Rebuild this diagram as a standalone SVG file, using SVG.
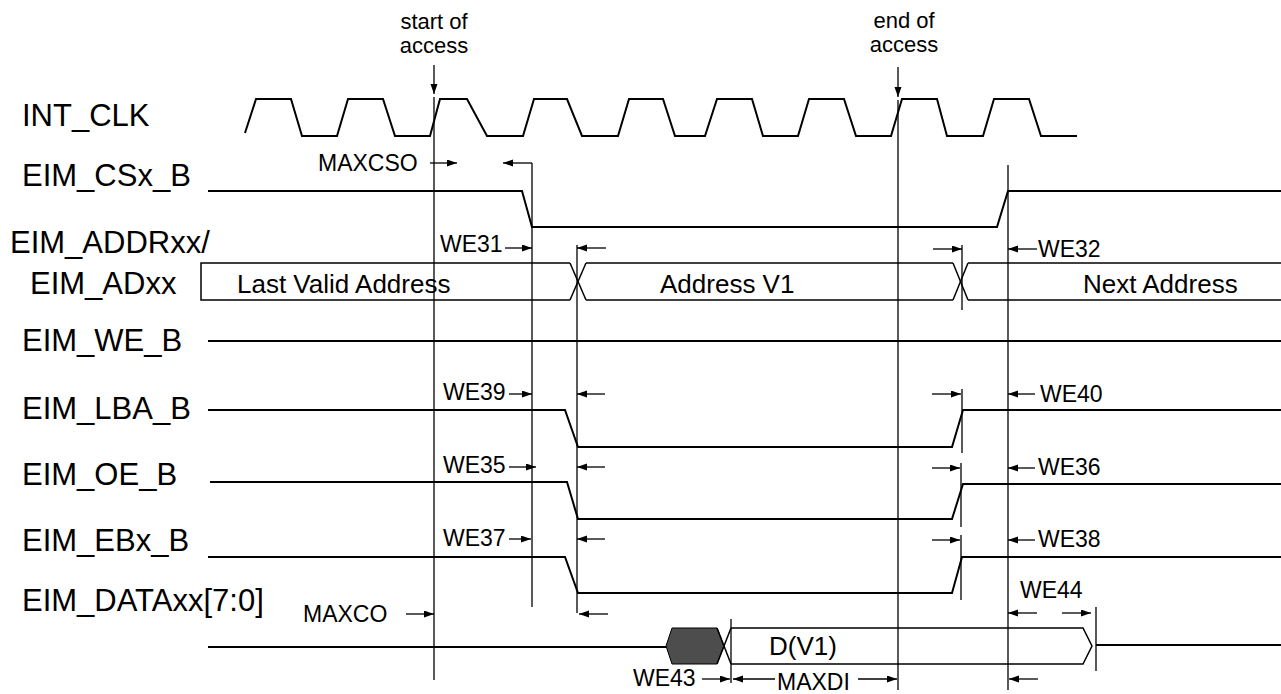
<svg xmlns="http://www.w3.org/2000/svg" width="1281" height="694" viewBox="0 0 1281 694">
<style>
text{font-family:"Liberation Sans",Arial,sans-serif;fill:#000}
.lbl{font-size:31px}
.sm{font-size:23px}
.top{font-size:22px}
.bus{font-size:26px}
.sig{fill:none;stroke:#000;stroke-width:2;stroke-linejoin:miter}
.busl{fill:none;stroke:#000;stroke-width:1.5}
.ref{stroke:#000;stroke-width:1.3;fill:none}
.arr{stroke:#000;stroke-width:1.3;fill:none;marker-end:url(#ah)}
</style>
<defs>
<marker id="ah" markerUnits="userSpaceOnUse" markerWidth="11" markerHeight="8" refX="10" refY="3.5" orient="auto">
<path d="M0,0 L10,3.5 L0,7 z" fill="#000"/>
</marker>
</defs>
<rect width="1281" height="694" fill="#fff"/>

<g id="labels">
<text class="lbl" x="22" y="126">INT_CLK</text>
<text class="lbl" x="22" y="186">EIM_CSx_B</text>
<text class="lbl" x="10" y="253">EIM_ADDRxx/</text>
<text class="lbl" x="30" y="294">EIM_ADxx</text>
<text class="lbl" x="22" y="351">EIM_WE_B</text>
<text class="lbl" x="22" y="419">EIM_LBA_B</text>
<text class="lbl" x="22" y="485">EIM_OE_B</text>
<text class="lbl" x="22" y="551">EIM_EBx_B</text>
<text class="lbl" x="22" y="611">EIM_DATAxx[7:0]</text>
</g>

<g id="int_clk">
<polyline class="sig" stroke-width="1.7" points="245,133 256,99 291,99 302,136 337,136 348,99 383,99 395,136 430,136 440,99 467,99 487,136 523,136 534,99 567,99 582,136 618,136 629,99 663,99 675,136 705,136 717,99 752,99 763,136 798,136 809,99 844,99 856,136 891,136 902,99 937,99 947,136 983,136 994,99 1029,99 1041,136 1077,136"/>
</g>

<g id="eim_csx_b">
<polyline class="sig" points="208,191 522,191 532,227 997,227 1008,191 1281,191"/>
</g>

<g id="eim_addr">
<polyline class="busl" stroke-width="2" points="570,263 201,263 201,300 570,300"/>
<line class="busl" x1="570" y1="263" x2="586" y2="300"/>
<line class="busl" x1="570" y1="300" x2="586" y2="263"/>
<line class="busl" x1="586" y1="263" x2="953" y2="263"/>
<line class="busl" x1="586" y1="300" x2="953" y2="300"/>
<line class="busl" x1="953" y1="263" x2="968" y2="300"/>
<line class="busl" x1="953" y1="300" x2="968" y2="263"/>
<line class="busl" stroke-width="2" x1="968" y1="263" x2="1281" y2="263"/>
<line class="busl" x1="968" y1="300" x2="1281" y2="300"/>
<text class="bus" x="237" y="293">Last Valid Address</text>
<text class="bus" x="660" y="293">Address V1</text>
<text class="bus" x="1083" y="293">Next Address</text>
</g>

<g id="eim_we_b">
<line class="sig" x1="208" y1="341" x2="1281" y2="341"/>
</g>

<g id="eim_lba_b">
<polyline class="sig" points="208,410 565,410 578,447 952,447 963,410 1281,410"/>
</g>

<g id="eim_oe_b">
<polyline class="sig" points="210,482 567,482 578,519 952,519 963,484 1281,484"/>
</g>

<g id="eim_ebx_b">
<polyline class="sig" points="208,557 565,557 578,593 952,593 962,557 1281,557"/>
</g>

<g id="eim_data">
<line class="sig" x1="208" y1="647" x2="666" y2="647"/>
<polygon points="666,646 672,628 717,628 724,646 717,664 672,664" fill="#4d4d4d" stroke="#000" stroke-width="1"/>
<line class="busl" x1="717" y1="628" x2="731" y2="664"/>
<line class="busl" x1="717" y1="664" x2="731" y2="628"/>
<polyline class="busl" points="731,628 1083,628 1092,646 1083,664 731,664"/>
<line class="sig" x1="1096" y1="645" x2="1281" y2="645"/>
<text class="bus" x="769" y="655">D(V1)</text>
</g>

<g id="connectors">
<line class="ref" x1="434" y1="97" x2="434" y2="680"/>
<line class="ref" x1="898" y1="100" x2="898" y2="690"/>
<line class="ref" x1="532" y1="163" x2="532" y2="607"/>
<line class="ref" x1="577" y1="245" x2="577" y2="613"/>
<line class="ref" x1="962" y1="245" x2="962" y2="310"/>
<line class="ref" x1="962" y1="389" x2="962" y2="453"/>
<line class="ref" x1="961" y1="463" x2="961" y2="527"/>
<line class="ref" x1="961" y1="535" x2="961" y2="600"/>
<line class="ref" x1="1008" y1="165" x2="1008" y2="690"/>
<line class="ref" x1="731" y1="619" x2="731" y2="683"/>
<line class="ref" x1="1096" y1="607" x2="1096" y2="671"/>

<line class="arr" x1="434" y1="65" x2="434" y2="94"/>
<line class="arr" x1="898" y1="67" x2="898" y2="97"/>
<line class="arr" x1="430" y1="163" x2="457" y2="163"/>
<line class="arr" x1="532" y1="163" x2="503" y2="163"/>
<line class="arr" x1="505" y1="248" x2="532" y2="248"/>
<line class="arr" x1="606" y1="248" x2="577" y2="248"/>
<line class="arr" x1="933" y1="249" x2="962" y2="249"/>
<line class="arr" x1="1037" y1="249" x2="1008" y2="249"/>
<line class="arr" x1="509" y1="394" x2="532" y2="394"/>
<line class="arr" x1="605" y1="394" x2="577" y2="394"/>
<line class="arr" x1="932" y1="394" x2="961" y2="394"/>
<line class="arr" x1="1035" y1="394" x2="1008" y2="394"/>
<line class="arr" x1="509" y1="467" x2="536" y2="467"/>
<line class="arr" x1="605" y1="467" x2="577" y2="467"/>
<line class="arr" x1="932" y1="468" x2="960" y2="468"/>
<line class="arr" x1="1035" y1="468" x2="1008" y2="468"/>
<line class="arr" x1="509" y1="539" x2="531" y2="539"/>
<line class="arr" x1="605" y1="539" x2="577" y2="539"/>
<line class="arr" x1="932" y1="540" x2="960" y2="540"/>
<line class="arr" x1="1035" y1="540" x2="1008" y2="540"/>
<line class="arr" x1="406" y1="614" x2="434" y2="614"/>
<line class="arr" x1="608" y1="614" x2="579" y2="614"/>
<line class="arr" x1="1037" y1="613" x2="1008" y2="613"/>
<line class="arr" x1="1062" y1="613" x2="1091" y2="613"/>
<line class="arr" x1="702" y1="679" x2="730" y2="679"/>
<line class="arr" x1="775" y1="679" x2="733" y2="679"/>
<line class="arr" x1="858" y1="679" x2="897" y2="679"/>
<line class="arr" x1="1038" y1="679" x2="1009" y2="679"/>
</g>

<g id="timing-labels">
<text class="top" x="434" y="29" text-anchor="middle">start of</text>
<text class="top" x="434" y="53" text-anchor="middle">access</text>
<text class="top" x="904" y="28" text-anchor="middle">end of</text>
<text class="top" x="904" y="52" text-anchor="middle">access</text>
<text class="sm" x="318" y="171">MAXCSO</text>
<text class="sm" x="440" y="252">WE31</text>
<text class="sm" x="1038" y="257">WE32</text>
<text class="sm" x="443" y="400">WE39</text>
<text class="sm" x="443" y="473">WE35</text>
<text class="sm" x="443" y="546">WE37</text>
<text class="sm" x="1040" y="402">WE40</text>
<text class="sm" x="1038" y="475">WE36</text>
<text class="sm" x="1038" y="547">WE38</text>
<text class="sm" x="1020" y="598">WE44</text>
<text class="sm" x="303" y="622">MAXCO</text>
<text class="sm" x="633" y="686">WE43</text>
<text class="sm" x="777" y="690">MAXDI</text>
</g>
</svg>
